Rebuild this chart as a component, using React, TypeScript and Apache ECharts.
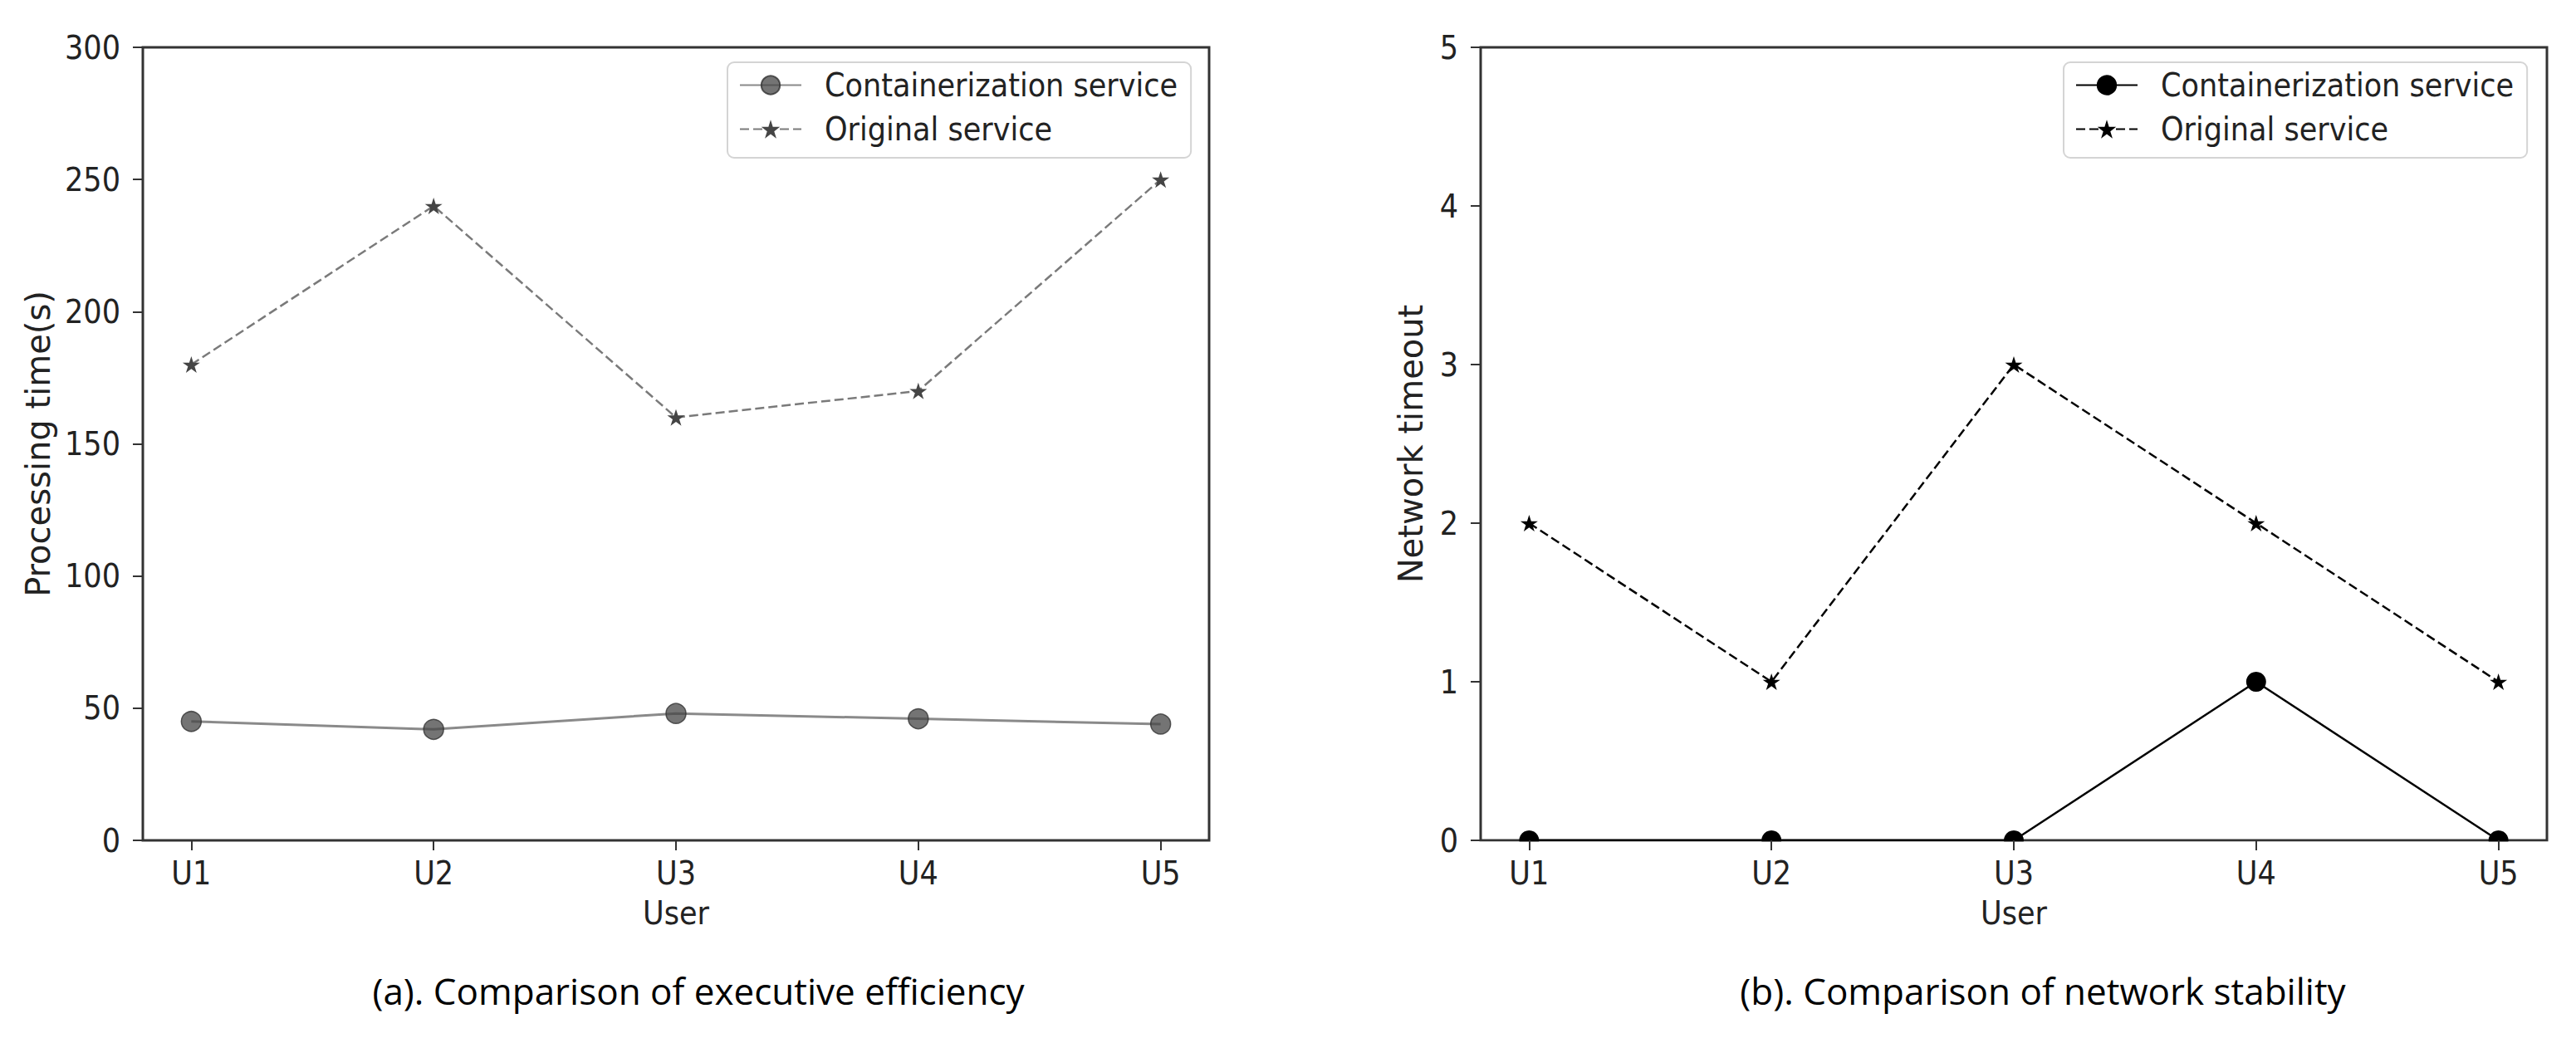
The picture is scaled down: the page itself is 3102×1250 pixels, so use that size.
import React, { useEffect, useRef } from 'react';
import * as echarts from 'echarts';

const users = ['U1', 'U2', 'U3', 'U4', 'U5'];
const containerTime = [45, 42, 48, 46, 44];
const originalTime = [180, 240, 160, 170, 250];
const containerTimeout = [0, 0, 0, 1, 0];
const originalTimeout = [2, 1, 3, 2, 1];
const seriesNames = ['Containerization service', 'Original service'];
const captions = ['(a). Comparison of executive efficiency', '(b). Comparison of network stability'];
const yNames = ['Processing time(s)', 'Network timeout'];
const xName = 'User';

const STAR = 'path://M50,0L61.23,34.55L97.55,34.55L68.17,55.9L79.39,90.45L50,69.1L20.61,90.45L31.83,55.9L2.45,34.55L38.77,34.55Z';
const FONT = "'DejaVu Sans Condensed', 'Liberation Sans Narrow', 'DejaVu Sans', sans-serif";
const VFONT = "'DejaVu Sans', sans-serif";
const CAPTION_FONT = "'Open Sans', 'Noto Sans', sans-serif";
const TXT = '#222';

const G_TOP = 57;
const G_H = 955;
const G_W = 1284;
const G_LEFT = [172, 1783];

export default function App() {
  const ref = useRef<HTMLDivElement>(null);
  useEffect(() => {
    const chart = echarts.init(ref.current!, null, { renderer: 'svg' });
    const idx = users.map((_, i) => i);
    const pairs = (vals: number[]) => vals.map((v, i) => [i, v]);

    const xAxis = (gridIndex: number) => ({
      type: 'value', gridIndex, min: -0.2, max: 4.2, z: 5,
      name: xName, nameLocation: 'middle', nameGap: 68,
      nameTextStyle: { fontFamily: FONT, fontSize: 39, color: TXT },
      axisLine: { show: false, onZero: false },
      axisTick: { show: true, length: 12, lineStyle: { color: '#333', width: 2 }, customValues: idx },
      axisLabel: {
        fontFamily: FONT, fontSize: 39, color: TXT, margin: 20, customValues: idx,
        formatter: (v: number) => users[Math.round(v)] ?? '',
      },
      splitLine: { show: false },
    });
    const yAxis = (gridIndex: number, max: number, interval: number, name: string, gap: number) => ({
      type: 'value', gridIndex, min: 0, max, interval, z: 5,
      name, nameLocation: 'middle', nameGap: gap,
      nameTextStyle: { fontFamily: VFONT, fontSize: 40, color: TXT },
      axisLine: { show: false, onZero: false },
      axisTick: { show: true, length: 12, lineStyle: { color: '#333', width: 2 } },
      axisLabel: { fontFamily: FONT, fontSize: 39, color: TXT, margin: 27 },
      splitLine: { show: false },
    });
    const legend = (left: number, dark: boolean) => ({
      orient: 'vertical', left, top: 75, z: 6,
      padding: [8, 16, 15, 14],
      itemWidth: 74, itemHeight: 28, itemGap: 14,
      backgroundColor: 'rgba(255,255,255,0.8)',
      borderColor: '#d4d4d4', borderWidth: 2, borderRadius: 8,
      textStyle: { fontFamily: FONT, fontSize: 39, color: TXT, padding: [0, 0, 0, 23] },
      data: dark
        ? seriesNames.map((n) => ({
            name: n,
            itemStyle: { color: '#000', borderColor: '#000', opacity: 1 },
            lineStyle: { color: '#000', opacity: 1 },
          }))
        : seriesNames,
    });
    const grid = (left: number) => ({
      left, top: G_TOP, width: G_W, height: G_H,
      show: true, borderColor: '#333', borderWidth: 3, backgroundColor: 'transparent',
      outerBoundsMode: 'none', containLabel: false,
    });

    const option: any = {
      animation: false,
      backgroundColor: '#fff',
      grid: [grid(G_LEFT[0]), grid(G_LEFT[1])],
      xAxis: [xAxis(0), xAxis(1)],
      yAxis: [yAxis(0, 300, 50, yNames[0], 106), yAxis(1, 5, 1, yNames[1], 64)],
      legend: [legend(876, false), legend(2485, true)],
      series: [
        {
          name: seriesNames[0], type: 'line', xAxisIndex: 0, yAxisIndex: 0, z: 2,
          data: pairs(containerTime),
          symbol: 'circle', symbolSize: 24,
          lineStyle: { color: '#8a8a8a', width: 3 },
          itemStyle: { color: 'rgba(70,70,70,0.75)', borderColor: 'rgba(50,50,50,0.8)', borderWidth: 1.5 },
        },
        {
          name: seriesNames[1], type: 'line', xAxisIndex: 0, yAxisIndex: 0, z: 2,
          data: pairs(originalTime),
          symbol: STAR, symbolSize: 21, symbolKeepAspect: true,
          lineStyle: { color: '#7a7a7a', width: 2.5, type: [11, 5] },
          itemStyle: { color: '#454545', borderColor: '#454545', borderWidth: 0 },
        },
        {
          name: seriesNames[0], type: 'line', xAxisIndex: 1, yAxisIndex: 1, z: 2,
          data: pairs(containerTimeout),
          symbol: 'circle', symbolSize: 24,
          lineStyle: { color: '#000', width: 2.5 },
          itemStyle: { color: '#000', borderColor: '#000', borderWidth: 0 },
        },
        {
          name: seriesNames[1], type: 'line', xAxisIndex: 1, yAxisIndex: 1, z: 2,
          data: pairs(originalTimeout),
          symbol: STAR, symbolSize: 21, symbolKeepAspect: true,
          lineStyle: { color: '#000', width: 2.5, type: [11, 5] },
          itemStyle: { color: '#000', borderColor: '#000', borderWidth: 0 },
        },
      ],
      graphic: {
        z: 4,
        elements: [
          // clip markers below the plot area, as matplotlib does
          {
            type: 'rect', z: 4, silent: true,
            shape: { x: G_LEFT[1] - 2, y: G_TOP + G_H + 1.5, width: G_W + 4, height: 16 },
            style: { fill: '#fff' },
          },
          {
            type: 'text', x: 841, y: 1193, z: 4,
            style: { text: captions[0], font: `500 44px ${CAPTION_FONT}`, fill: '#000', align: 'center', verticalAlign: 'middle', textAlign: 'center', textVerticalAlign: 'middle' },
          },
          {
            type: 'text', x: 2460, y: 1193, z: 4,
            style: { text: captions[1], font: `500 44px ${CAPTION_FONT}`, fill: '#000', align: 'center', verticalAlign: 'middle', textAlign: 'center', textVerticalAlign: 'middle' },
          },
        ],
      },
    };
    chart.setOption(option);
    return () => chart.dispose();
  }, []);
  return <div ref={ref} style={{ position: 'absolute', left: 0, top: 0, width: 3102, height: 1250 }} />;
}
